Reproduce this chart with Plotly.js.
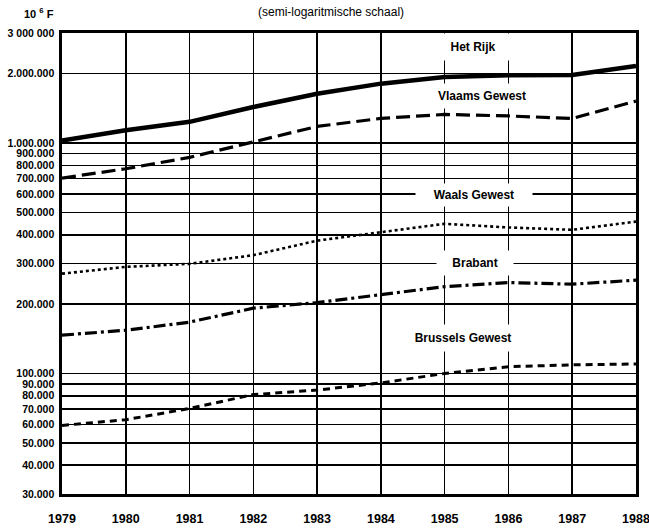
<!DOCTYPE html>
<html>
<head>
<meta charset="utf-8">
<script src="https://cdn.plot.ly/plotly-3.0.1.min.js"></script>
<style>html,body{margin:0;padding:0;background:#fff;}#chart{width:649px;height:530px;}</style>
</head>
<body>
<div id="chart"></div>
<script>
// Data (values in 10^6 F scale units as printed on the axis)
var years = [1979, 1980, 1981, 1982, 1983, 1984, 1985, 1986, 1987, 1988];
var hetRijk = [1024000, 1136000, 1235000, 1432000, 1636000, 1809000, 1934000, 1968000, 1974000, 2160000];
var vlaamsGewest = [704000, 773000, 866000, 1010000, 1180000, 1278000, 1330000, 1310000, 1278000, 1520000];
var waalsGewest = [271000, 290000, 299000, 326000, 377000, 410000, 446000, 430000, 420000, 456000];
var brabant = [146600, 154000, 167000, 192000, 203000, 219000, 238000, 248000, 244000, 254000];
var brusselsGewest = [59500, 63000, 70500, 81000, 84700, 91000, 100000, 107000, 109000, 110000];

var yTickVals = [3000000, 2000000, 1000000, 900000, 800000, 700000, 600000, 500000, 400000, 300000, 200000,
                 100000, 90000, 80000, 70000, 60000, 50000, 40000, 30000];
var yTickText = ['3 000 000', '2.000.000', '1.000.000', '900.000', '800.000', '700.000', '600.000', '500.000',
                 '400.000', '300.000', '200.000', '100.000', '90.000', '80.000', '70.000', '60.000', '50.000',
                 '40.000', '30.000'];
var xTickText = years.map(String);

var seriesNames = ['Het Rijk', 'Vlaams Gewest', 'Waals Gewest', 'Brabant', 'Brussels Gewest'];

var FONT = 'Liberation Sans, Arial, Helvetica, sans-serif';

function tr(y, width, dash, name) {
  return {x: years, y: y, type: 'scatter', mode: 'lines', name: name,
          line: {color: '#000', width: width, dash: dash, shape: 'linear'}, hoverinfo: 'skip'};
}

var data = [
  tr(hetRijk, 4.5, 'solid', seriesNames[0]),
  tr(vlaamsGewest, 3.2, '14px,6px', seriesNames[1]),
  tr(waalsGewest, 2.6, '3px,3px', seriesNames[2]),
  tr(brabant, 3.2, '12px,4px,3px,4px', seriesNames[3]),
  tr(brusselsGewest, 3.0, '7px,5px', seriesNames[4])
];

var L = 62, R = 636, T = 33, B = 494;
function px(x) { return (x - L) / (R - L); }
function py(y) { return (B - y) / (B - T); }

function lab(text, cx, cy, w, h) {
  return {text: '<b>' + text + '</b>', xref: 'paper', yref: 'paper', x: px(cx), y: py(cy),
          xanchor: 'center', yanchor: 'middle', showarrow: false, bgcolor: '#fff',
          width: w, height: h, borderpad: 0, font: {family: FONT, size: 12, color: '#000'}};
}

var layout = {
  width: 649, height: 530,
  margin: {l: L, r: 649 - R, t: T, b: 530 - B},
  paper_bgcolor: '#fff', plot_bgcolor: '#fff',
  showlegend: false,
  font: {family: FONT, color: '#000'},
  xaxis: {
    range: [1979, 1988], tickvals: years, ticktext: xTickText,
    showgrid: true, gridcolor: '#000', gridwidth: 1.6, zeroline: false,
    showline: true, mirror: true, linecolor: '#000', linewidth: 2.6,
    ticks: '', ticklabelstandoff: 11, ticklabeloverflow: 'allow',
    tickfont: {family: FONT, size: 12.5, color: '#000', weight: 'bold'}
  },
  yaxis: {
    type: 'log', range: [Math.log10(30000), Math.log10(3000000)],
    tickvals: yTickVals, ticktext: yTickText,
    showgrid: true, gridcolor: '#000', gridwidth: 1.6, zeroline: false,
    showline: true, mirror: true, linecolor: '#000', linewidth: 2.6,
    ticks: '', ticklabelstandoff: 3, ticklabeloverflow: 'allow',
    tickfont: {family: FONT, size: 10.5, color: '#000', weight: 'bold'}
  },
  annotations: [
    {text: '<b>10 <sup>6</sup> F</b>', xref: 'paper', yref: 'paper', x: px(22), y: py(13), xanchor: 'left', yanchor: 'middle',
     showarrow: false, font: {family: FONT, size: 11, color: '#000'}},
    {text: '(semi-logaritmische schaal)', xref: 'paper', yref: 'paper', x: px(331), y: py(12), xanchor: 'center', yanchor: 'middle',
     showarrow: false, font: {family: FONT, size: 12, color: '#000'}},
    lab(seriesNames[0], 473, 47, 76, 26),
    lab(seriesNames[1], 482, 95.5, 100, 24),
    lab(seriesNames[2], 474, 195.5, 116, 22),
    lab(seriesNames[3], 475, 262.5, 76, 24),
    lab(seriesNames[4], 463, 337.5, 110, 26)
  ]
};

Plotly.newPlot('chart', data, layout, {displayModeBar: false, staticPlot: true});
</script>
</body>
</html>
